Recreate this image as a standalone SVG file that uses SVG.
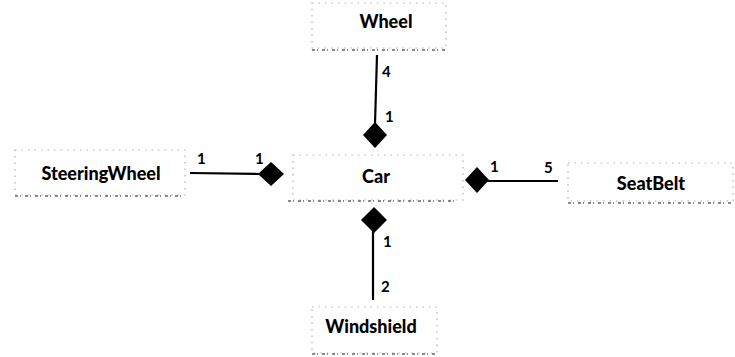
<svg xmlns="http://www.w3.org/2000/svg" width="735" height="357" viewBox="0 0 735 357">
  <defs>
    <style>
      .box { fill: none; stroke: #b0b0b0; stroke-width: 1.2; stroke-dasharray: 1.5 5; }
      .base { stroke: #666; stroke-width: 1.6; stroke-dasharray: 3 2 1 4; fill: none; }
      .name { font-family: Lato, "Open Sans", sans-serif; font-weight: 900; font-size: 18px; fill: #000; text-anchor: middle; }
      .mult { font-family: Lato, "Open Sans", sans-serif; font-weight: 700; font-size: 15px; fill: #000; }
      .link { stroke: #000; stroke-width: 2.2; fill: none; }
      .diamond { fill: #000; }
    </style>
  </defs>
  <rect width="735" height="357" fill="#fff"/>

  <!-- classes -->
  <g id="wheel">
    <rect class="box" x="312" y="3" width="134" height="45"/>
    <line class="base" x1="312" y1="50" x2="446" y2="50"/>
    <text class="name" x="386" y="28">Wheel</text>
  </g>
  <g id="car">
    <rect class="box" x="293" y="155" width="170" height="45"/>
    <line class="base" x1="288" y1="201" x2="455" y2="201"/>
    <text class="name" x="376" y="183">Car</text>
  </g>
  <g id="steeringwheel">
    <rect class="box" x="15" y="150" width="170" height="45"/>
    <line class="base" x1="15" y1="196" x2="185" y2="196"/>
    <text class="name" x="101" y="180">SteeringWheel</text>
  </g>
  <g id="seatbelt">
    <rect class="box" x="568" y="163" width="165" height="38"/>
    <line class="base" x1="568" y1="203" x2="733" y2="203"/>
    <text class="name" x="651" y="190">SeatBelt</text>
  </g>
  <g id="windshield">
    <rect class="box" x="312" y="307" width="125" height="46"/>
    <line class="base" x1="312" y1="354" x2="437" y2="354"/>
    <text class="name" x="371" y="333">Windshield</text>
  </g>

  <!-- composition links -->
  <g id="connectors">
    <line class="link" x1="377" y1="55" x2="375" y2="124"/>
    <polygon class="diamond" points="375,122 387,135 375,148 363,135"/>
    <text class="mult" x="382" y="77">4</text>
    <text class="mult" x="385" y="122">1</text>

    <line class="link" x1="190" y1="173" x2="260" y2="174"/>
    <polygon class="diamond" points="258,174 271,162 284,174 271,186"/>
    <text class="mult" x="197" y="164">1</text>
    <text class="mult" x="255" y="164">1</text>

    <line class="link" x1="487" y1="181" x2="558" y2="181"/>
    <polygon class="diamond" points="465,180 477,167 489,180 477,193"/>
    <text class="mult" x="490" y="172">1</text>
    <text class="mult" x="544" y="173">5</text>

    <line class="link" x1="373" y1="230" x2="373" y2="300"/>
    <polygon class="diamond" points="374,207 387,220 374,233 361,220"/>
    <text class="mult" x="383" y="247">1</text>
    <text class="mult" x="381" y="292">2</text>
  </g>
</svg>
